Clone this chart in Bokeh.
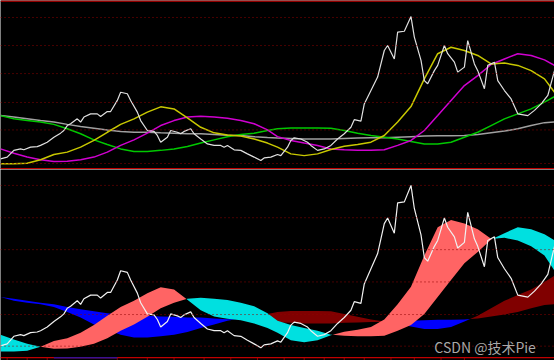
import numpy as np
from bokeh.plotting import figure
from bokeh.layouts import column
from bokeh.models import Range1d, Span, Label
from bokeh.embed import file_html
from bokeh.resources import INLINE

# ---------------- data ----------------
price_day = [0, 2, 4, 6, 7, 9, 11, 12, 14, 16, 18, 19, 20, 21, 23, 24, 25, 27, 29, 30,
             32, 33, 35, 36, 38, 39, 41, 42, 44, 46, 47, 48, 50, 51, 53, 54, 55, 57, 58, 60,
             62, 64, 66, 67, 68, 70, 72, 74, 76, 78, 79, 81, 83, 84, 86, 87, 88, 90, 92, 93,
             95, 97, 99, 101, 103, 105, 106, 108, 109, 111, 113, 115, 116, 118, 119, 121, 123, 124, 126, 127,
             128, 130, 131, 133, 134, 136, 137, 139, 140, 142, 143, 145, 146, 148, 149, 151, 153, 155, 158, 160,
             162, 164, 166]
price = [1.6, 2.2, 4.5, 5.0, 4.7, 5.6, 5.8, 6.2, 7.3, 9.0, 10.4, 11.3, 13.0, 13.6, 15.3, 14.2, 15.9, 17.0, 17.0, 16.1,
         17.8, 17.8, 21.6, 24.4, 23.9, 21.6, 17.6, 14.7, 11.3, 11.0, 9.6, 7.3, 9.0, 11.3, 10.7, 10.2, 11.0, 11.9, 10.2, 8.4,
         6.7, 6.2, 6.2, 5.6, 6.2, 4.7, 4.5, 3.3, 2.2, 1.0, 1.9, 2.2, 3.1, 2.7, 5.6, 7.9, 8.8, 8.4, 7.3, 6.2,
         4.5, 5.0, 6.2, 8.4, 10.2, 12.4, 15.0, 14.5, 20.4, 25.0, 29.6, 38.7, 40.4, 35.8, 45.0, 45.3, 50.3, 43.3, 35.3, 28.4,
         27.3, 31.8, 33.6, 40.4, 37.6, 34.7, 31.3, 33.0, 42.1, 34.1, 31.8, 25.6, 33.6, 34.7, 28.4, 25.0, 22.1, 17.0, 16.4, 18.2,
         20.4, 23.3, 31.8]

ma_day = [0, 4, 8, 12, 16, 20, 24, 28, 32, 36, 40, 44, 48, 52, 56, 60, 64, 68, 72, 76, 80, 83,
          87, 91, 95, 99, 103, 107, 111, 115, 119, 123, 127, 131, 135, 139, 143, 147, 151, 155, 159, 163, 166]
ma_yellow = [-0.1, -0.1, 0.1, 1.3, 3.1, 3.9, 5.6, 7.9, 10.7, 13.4, 15.3, 17.6, 19.4, 18.7, 15.6, 12.4, 10.5, 9.8, 9.4, 8.4, 7.0, 5.6,
             3.3, 2.7, 3.3, 4.8, 5.9, 6.5, 7.3, 9.6, 14.2, 19.5, 29.0, 37.6, 39.8, 38.7, 37.0, 34.1, 34.4, 33.6, 31.8, 29.0, 24.4]
ma_magenta = [5.0, 3.5, 2.2, 1.3, 0.7, 0.8, 1.3, 2.2, 3.9, 6.2, 8.1, 10.4, 13.0, 14.7, 15.9, 16.2, 15.9, 15.5, 14.7, 13.6, 11.5, 9.2,
              7.9, 7.0, 6.2, 5.0, 4.7, 4.5, 4.5, 4.7, 6.2, 7.9, 11.3, 16.4, 21.6, 26.7, 30.1, 33.9, 35.8, 37.6, 37.0, 35.5, 33.6]
ma_green = [16.4, 15.3, 14.7, 14.2, 13.4, 11.9, 10.2, 8.1, 6.5, 5.0, 4.1, 4.1, 4.5, 5.0, 5.8, 7.0, 8.1, 9.2, 9.9, 10.4, 11.3, 11.9,
            12.2, 12.2, 12.2, 12.1, 11.3, 10.4, 9.6, 9.0, 8.4, 7.5, 6.7, 6.7, 7.3, 9.0, 10.7, 13.0, 15.3, 17.0, 18.7, 21.0, 22.9]
ma_gray = [16.4, 15.9, 15.3, 14.7, 14.2, 13.4, 12.7, 12.1, 11.5, 11.0, 10.7, 10.7, 10.5, 10.4, 10.2, 10.2, 9.9, 9.7, 9.6, 9.2, 8.9, 8.7,
           8.6, 8.4, 8.4, 8.4, 8.6, 8.7, 8.8, 8.8, 9.0, 9.2, 9.4, 9.5, 9.5, 9.6, 9.9, 10.5, 11.1, 11.9, 13.0, 14.0, 14.2]

grid_top = [0.0, 11.5, 20.9, 30.8, 40.4, 50.0]
top_edges = [55.65, -1.85]      # red border levels of the upper panel
grid_bottom = [1.5, 11.1, 21.0, 30.8, 40.5, 50.3]
base_bottom = -2.0              # level of the lower panel's base line
tick_days = [2, 8, 14, 35, 44, 52, 61, 69, 77, 85, 91, 97, 103, 109, 117, 124, 132, 139]
selected_days = [16, 35]
watermark = "CSDN @技术Pie"

# ---------------- styles ----------------
BG = "#000000"
RED = "#c00000"
GRID = "#900000"
W = 554


def split_bands(x, a, b):
    x = np.asarray(x, float); a = np.asarray(a, float); b = np.asarray(b, float)
    xs, as_, bs = [x[0]], [a[0]], [b[0]]
    for i in range(1, len(x)):
        d0 = a[i - 1] - b[i - 1]
        d1 = a[i] - b[i]
        if d0 * d1 < 0:
            t = d0 / (d0 - d1)
            xc = x[i - 1] + t * (x[i] - x[i - 1])
            yc = a[i - 1] + t * (a[i] - a[i - 1])
            xs.append(xc); as_.append(yc); bs.append(yc)
        xs.append(x[i]); as_.append(a[i]); bs.append(b[i])
    return np.array(xs), np.array(as_), np.array(bs)


x_range = Range1d(0, 166)

# ---------------- top panel ----------------
top = figure(width=W, height=169, x_range=x_range, y_range=Range1d(-2.05, 55.82),
             output_backend="svg", toolbar_location=None,
             x_axis_location=None, y_axis_location=None,
             min_border_left=0, min_border_right=0, min_border_top=0, min_border_bottom=0,
             background_fill_color=BG, border_fill_color=BG, outline_line_color=None)
top.xgrid.visible = False
top.ygrid.visible = False
for g in grid_top:
    top.add_layout(Span(location=g, dimension="width", line_color=GRID,
                        line_dash="1 3", line_width=1))

top.line(ma_day, ma_gray, line_color="#a0a0a0", line_width=1.5)
top.line(ma_day, ma_green, line_color="#00c800", line_width=1.5)
top.line(ma_day, ma_magenta, line_color="#d000d0", line_width=1.5)
top.line(ma_day, ma_yellow, line_color="#c8c800", line_width=1.5)
top.line(price_day, price, line_color="#e0e0e0", line_width=1.2)

for e in top_edges:
    top.add_layout(Span(location=e, dimension="width", line_color=RED, line_width=1.6))

# ---------------- bottom panel ----------------
bot = figure(width=W, height=191, x_range=x_range, y_range=Range1d(-2.85, 55.13),
             output_backend="svg", toolbar_location=None,
             x_axis_location=None, y_axis_location=None,
             min_border_left=0, min_border_right=0, min_border_top=0, min_border_bottom=0,
             background_fill_color=BG, border_fill_color=BG, outline_line_color=None)
bot.xgrid.visible = False
bot.ygrid.visible = False
for g in grid_bottom:
    bot.add_layout(Span(location=g, dimension="width", line_color=GRID,
                        line_dash="1 3", line_width=1))

xl, gl, yl = split_bands(ma_day, ma_green, ma_gray)
bot.varea(x=xl, y1=yl, y2=np.maximum(gl, yl), fill_color="#800000")
bot.varea(x=xl, y1=np.minimum(gl, yl), y2=yl, fill_color="#0000ff")

xs, fs, ss = split_bands(ma_day, ma_yellow, ma_magenta)
bot.varea(x=xs, y1=ss, y2=np.maximum(fs, ss), fill_color="#ff6464")
bot.varea(x=xs, y1=np.minimum(fs, ss), y2=ss, fill_color="#00e0e0")

bot.line(price_day, price, line_color="#f0f0f0", line_width=1.2)

# base line with date ticks below it
bot.add_layout(Span(location=base_bottom, dimension="width", line_color=RED, line_width=1.2))
bot.segment(x0=tick_days, x1=tick_days, y0=[base_bottom] * len(tick_days),
            y1=[-2.85] * len(tick_days), line_color="#8a0000", line_width=1)
bot.segment(x0=[selected_days[0]], x1=[selected_days[1]], y0=[base_bottom], y1=[base_bottom],
            line_color="#3a1090", line_width=1.5, level="overlay")

bot.add_layout(Label(x=130, y=1.1, text=watermark, text_font="Noto Sans CJK SC",
                     text_font_size="14px", text_color="#c8c8c8", text_alpha=0.85,
                     text_baseline="alphabetic"))

layout = column(top, bot, spacing=0)
open("out.html", "w").write(file_html(layout, INLINE))
